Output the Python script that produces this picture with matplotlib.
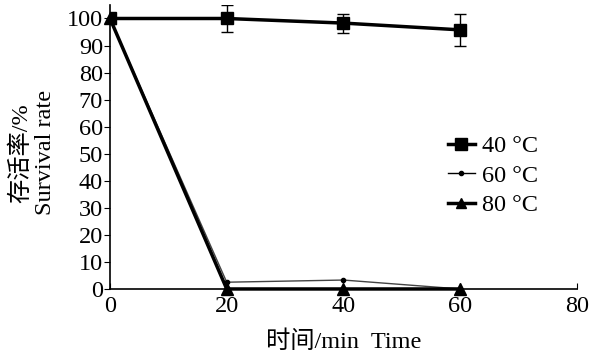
import matplotlib
matplotlib.use("Agg")
import matplotlib.pyplot as plt
from matplotlib.lines import Line2D

time = [0, 20, 40, 60]
s40 = [100, 100, 98.3, 95.8]
e40 = [0, 5, 3.5, 6]
s60 = [100, 2.5, 3.3, 0]
s80 = [100, 0, 0, 0]
labels = ["40 °C", "60 °C", "80 °C"]
xticks = [0, 20, 40, 60, 80]
yticks = list(range(0, 101, 10))

fam = ["Liberation Serif", "Noto Sans CJK SC"]
plt.rcParams['font.family'] = fam
plt.rcParams['font.size'] = 17.5

fig = plt.figure(figsize=(6.01, 3.55), dpi=100)
ax = fig.add_axes([0.183, 0.186, 0.777, 0.80])

ax.plot(time, s60, color='#444444', lw=1, marker='o', ms=3, zorder=2,
        markerfacecolor='black', markeredgecolor='black', clip_on=False)
ax.plot(time, s80, color='black', lw=2.5, marker='^', ms=9, zorder=2, clip_on=False)
ax.errorbar(time, s40, yerr=e40, color='black', lw=2.5, marker='s', ms=8,
            capsize=4, elinewidth=1, ecolor='black', zorder=3)

ax.set_xlim(0, 80)
ax.set_ylim(0, 105)
ax.set_xticks(xticks)
ax.set_yticks(yticks)
ax.spines['top'].set_visible(False)
ax.spines['right'].set_visible(False)
ax.spines['left'].set_linewidth(1.2)
ax.spines['bottom'].set_linewidth(1.2)
ax.tick_params(axis='x', direction='in', length=4, pad=5)
ax.tick_params(axis='y', direction='out', length=4, pad=1)

ax.set_xlabel("时间/min  Time", labelpad=10)
fig.text(0.035, 0.57, "存活率/%", rotation=90, ha='center', va='center')
fig.text(0.076, 0.57, "Survival rate", rotation=90, ha='center', va='center')

handles = [
    Line2D([], [], color='black', lw=2.5, marker='s', ms=8),
    Line2D([], [], color='black', lw=1, marker='o', ms=3),
    Line2D([], [], color='black', lw=2.5, marker='^', ms=7),
]
leg = ax.legend(handles, labels, loc='upper left', bbox_to_anchor=(0.703, 0.575),
                frameon=False, handlelength=1.1, handletextpad=0.3,
                labelspacing=0.3, borderaxespad=0)

fig.savefig("out.png", dpi=100)
